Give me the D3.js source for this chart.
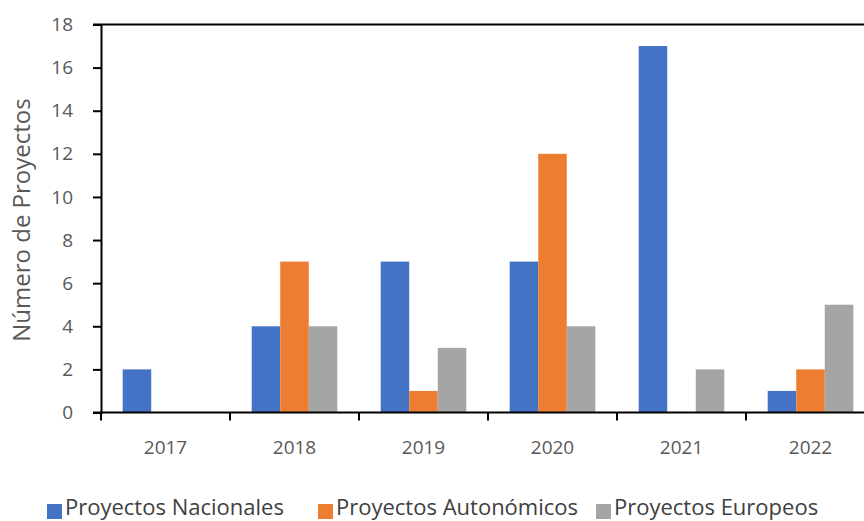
<!DOCTYPE html>
<html lang="es">
<head>
    <meta charset="UTF-8">
    <title>Número de Proyectos</title>
    <script src="https://cdn.jsdelivr.net/npm/d3@7"></script>
    <style>
        body { margin: 0; background: #fff; font-family: 'Open Sans', sans-serif; }
        svg { display: block; }
        .tick text { fill: #595959; font-size: 19px; font-family: 'Open Sans', sans-serif; }
        .legend text { fill: #404040; font-size: 22px; }
    </style>
</head>
<body>
<svg width="864" height="521"></svg>
<script>
    // datos
    const years = ["2017", "2018", "2019", "2020", "2021", "2022"];
    const series = ["Proyectos Nacionales", "Proyectos Autonómicos", "Proyectos Europeos"];
    const nacionales = [2, 4, 7, 7, 17, 1];
    const autonomicos = [0, 7, 1, 12, 0, 2];
    const europeos = [0, 4, 3, 4, 2, 5];
    const yTicks = [0, 2, 4, 6, 8, 10, 12, 14, 16, 18];
    const colors = ["#4472c4", "#ed7d31", "#a5a5a5"];

    const values = [nacionales, autonomicos, europeos];
    const svg = d3.select("svg");
    const mLeft = 101, mRight = 875, mTop = 24.5, mBottom = 412.5;

    const x = d3.scaleBand().domain(years).range([mLeft, mRight]).paddingInner(0).paddingOuter(0);
    const xs = d3.scaleBand().domain(series).range([0, x.bandwidth()]).paddingInner(0).paddingOuter(0.76);
    const y = d3.scaleLinear().domain([0, 18]).range([mBottom, mTop]);

    // barras
    series.forEach((s, i) => {
        svg.append("g").selectAll("rect")
            .data(years)
            .join("rect")
            .attr("x", d => x(d) + xs(s))
            .attr("width", xs.bandwidth())
            .attr("y", (d, j) => y(values[i][j]))
            .attr("height", (d, j) => y(0) - y(values[i][j]))
            .attr("fill", colors[i]);
    });

    // marco superior
    svg.append("line")
        .attr("x1", mLeft - 8).attr("x2", 864)
        .attr("y1", mTop).attr("y2", mTop)
        .attr("stroke", "#000").attr("stroke-width", 2);

    // eje y
    const yAxis = svg.append("g")
        .attr("transform", `translate(${mLeft},0)`)
        .call(d3.axisLeft(y).tickValues(yTicks).tickSize(8).tickPadding(20).tickFormat(d3.format("d")));
    yAxis.select(".domain").attr("stroke", "#000").attr("stroke-width", 2);
    yAxis.selectAll(".tick line").attr("stroke", "#000").attr("stroke-width", 2);

    // eje x
    const xAxis = svg.append("g")
        .attr("transform", `translate(0,${mBottom})`)
        .call(d3.axisBottom(x).tickSize(0).tickPadding(28));
    xAxis.select(".domain").remove();
    svg.append("line")
        .attr("x1", mLeft - 8).attr("x2", 864)
        .attr("y1", mBottom).attr("y2", mBottom)
        .attr("stroke", "#000").attr("stroke-width", 2);
    svg.append("g").selectAll("line")
        .data(years)
        .join("line")
        .attr("x1", d => x(d)).attr("x2", d => x(d))
        .attr("y1", mBottom).attr("y2", mBottom + 8)
        .attr("stroke", "#000").attr("stroke-width", 2);

    // título eje y
    svg.append("text")
        .attr("transform", "translate(30,220) rotate(-90)")
        .attr("text-anchor", "middle")
        .attr("fill", "#595959")
        .style("font-size", "24px")
        .text("Número de Proyectos");

    // leyenda
    const legendX = [47, 318, 596];
    const legend = svg.append("g").attr("class", "legend");
    series.forEach((s, i) => {
        legend.append("rect")
            .attr("x", legendX[i]).attr("y", 504)
            .attr("width", 15).attr("height", 15)
            .attr("fill", colors[i]);
        legend.append("text")
            .attr("x", legendX[i] + 18).attr("y", 515)
            .text(s);
    });
</script>
</body>
</html>
